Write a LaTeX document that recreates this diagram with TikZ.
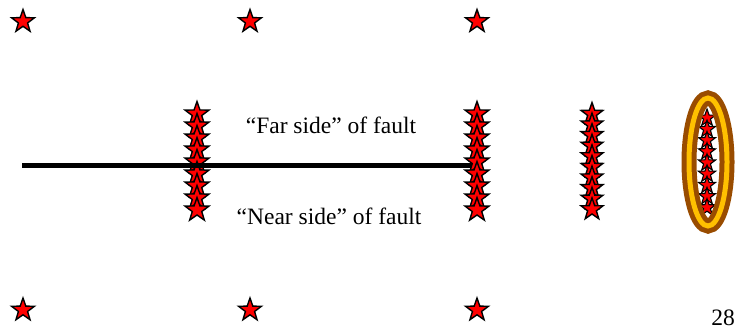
\documentclass[tikz,border=0pt]{standalone}
\usepackage{fontspec}
\setmainfont{Liberation Serif}
\usetikzlibrary{shapes.geometric, positioning}
\definecolor{quakered}{RGB}{255, 0, 0}
\definecolor{ringbrown}{RGB}{153, 76, 0}
\definecolor{ringgold}{RGB}{255, 192, 0}
\tikzstyle{event}    = [star, star points=5, star point ratio=2.5, minimum size=24pt,
                        inner sep=0pt, draw=black, fill=quakered, line width=1.4pt]
\tikzstyle{colevent} = [event, minimum size=25pt]
\tikzstyle{tightevent} = [event, minimum size=23pt]
\tikzstyle{smallevent} = [event, minimum size=18pt, line width=1.1pt]
\tikzstyle{fault}    = [line width=4.5pt, black]
\tikzstyle{label}    = [anchor=base, inner sep=0pt, font=\fontsize{23.5}{28}\selectfont]

\begin{document}
\begin{tikzpicture}[x=1pt, y=-1pt]
  \useasboundingbox (0,0) rectangle (741,332);

  % lone events away from the fault
  \foreach \xx/\nm in {23/a, 250/b, 477/c} {
    \node (top\nm) [event] at (\xx,21.5) {};
    \node (bot\nm) [event] at (\xx,310) {};
  }

  % column crossed by the fault trace
  \foreach \i in {0,...,8}
    \node (west\i) [colevent] at (197,{114+12*\i}) {};

  \coordinate (faultW) at (22,165.5);
  \coordinate (faultE) at (476,165.5);
  \draw [fault] (faultW) -- (faultE);

  % column at the fault tip
  \foreach \i in {0,...,8}
    \node (tip\i) [colevent] at (477,{114+12*\i}) {};

  % column beyond the tip
  \foreach \i in {0,...,9}
    \node (far\i) [tightevent] at (592,{114+10.6*\i}) {};

  % column inside the ellipse
  \foreach \i in {0,...,8}
    \node (ell\i) [smallevent] at (707,{118+11.2*\i}) {};
  \draw [ringbrown, line width=15pt] (708,162) ellipse [x radius=19pt, y radius=64pt];
  \draw [ringgold, line width=5pt]   (708,162) ellipse [x radius=19pt, y radius=64pt];

  \node (farside)  [label] at (331,133.5) {“Far side” of fault};
  \node (nearside) [label] at (329,224)   {“Near side” of fault};
  \node (page)     [label, anchor=base east] at (735,325) {28};
\end{tikzpicture}
\end{document}
